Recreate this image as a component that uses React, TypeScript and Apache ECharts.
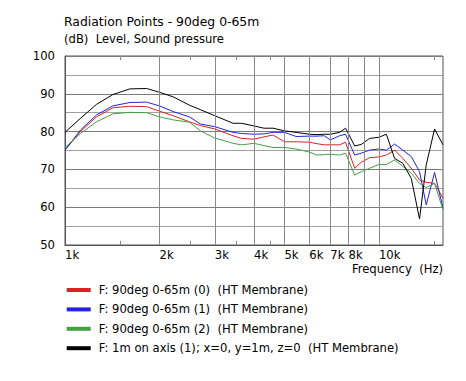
import React, { useEffect, useRef } from "react";
import * as echarts from "echarts";

const freqs = [1000, 1120, 1260, 1420, 1610, 1820, 2000, 2210, 2490, 2700, 3000, 3430, 3650, 4000, 4300, 4600, 5000, 5450, 6000, 6350, 6700, 7000, 7500, 7830, 8370, 8790, 9340, 10000, 10560, 11220, 11920, 12680, 13470, 14150, 15040, 16000];
const redValues = [75.1, 80.0, 83.9, 86.3, 86.7, 86.6, 85.4, 84.2, 82.6, 81.6, 80.7, 78.9, 78.2, 78.0, 78.6, 79.1, 77.3, 77.3, 77.2, 76.8, 76.5, 76.5, 76.5, 77.2, 70.3, 71.9, 73.1, 73.3, 73.8, 75.1, 72.9, 70.3, 67.2, 66.6, 66.3, 62.4];
const blueValues = [75.1, 80.4, 84.4, 86.8, 87.7, 87.8, 86.8, 85.3, 83.9, 82.0, 81.3, 79.8, 79.5, 79.3, 79.4, 79.8, 79.8, 78.7, 78.8, 78.8, 78.9, 77.8, 78.9, 79.3, 73.8, 74.3, 75.1, 75.4, 75.1, 76.7, 75.1, 73.4, 69.4, 60.6, 69.2, 59.7];
const greenValues = [75.8, 79.5, 82.6, 84.7, 85.1, 85.0, 83.9, 83.1, 82.5, 80.2, 78.3, 76.9, 76.5, 76.9, 76.3, 75.8, 75.8, 75.4, 74.6, 73.8, 73.9, 74.0, 73.8, 74.3, 68.5, 69.4, 70.3, 71.3, 71.3, 72.5, 70.8, 69.0, 66.3, 65.2, 66.3, 59.3];
const blackValues = [79.8, 83.5, 87.2, 89.8, 91.3, 91.4, 90.4, 89.2, 87.0, 85.8, 84.2, 82.2, 82.2, 81.5, 80.9, 80.9, 80.2, 79.8, 79.3, 79.2, 79.3, 79.3, 79.8, 80.9, 76.2, 76.6, 78.2, 78.5, 79.3, 72.9, 71.6, 67.6, 56.9, 71.2, 80.7, 76.5];

const seriesNames = [
  "F: 90deg 0-65m (0)  (HT Membrane)",
  "F: 90deg 0-65m (1)  (HT Membrane)",
  "F: 90deg 0-65m (2)  (HT Membrane)",
  "F: 1m on axis (1); x=0, y=1m, z=0  (HT Membrane)",
];
const seriesColors = ["#dd2222", "#2323dd", "#44a244", "#000000"];

const xTickValues = [1000, 2000, 3000, 4000, 5000, 6000, 7000, 8000, 10000];
const xTickLabels = ["1k", "2k", "3k", "4k", "5k", "6k", "7k", "8k", "10k"];
const gridFreqs = [2000, 3000, 4000, 5000, 6000, 7000, 8000, 9000, 10000];
const minorTickFreqs = [1500, 2500, 3500, 4500, 15000];

const titleText = "Radiation Points - 90deg 0-65m";
const subtitleText = "(dB)  Level, Sound pressure";
const xAxisTitle = "Frequency  (Hz)";

const FONT = "'DejaVu Sans', Verdana, sans-serif";
const FS = 11.6;

export default function App() {
  const ref = useRef<HTMLDivElement>(null);
  useEffect(() => {
    const chart = echarts.init(ref.current!, null, { renderer: "svg" });
    const allValues = [redValues, blueValues, greenValues, blackValues];
    const tickSegs: any[] = [];
    minorTickFreqs.forEach((f) => {
      tickSegs.push([{ coord: [f, 50] }, { coord: [f, 51.1] }]);
      tickSegs.push([{ coord: [f, 100] }, { coord: [f, 98.9] }]);
    });
    chart.setOption({
      animation: false,
      grid: {
        left: 65,
        top: 56,
        width: 378,
        height: 189,
        show: true,
        borderColor: "#555",
        borderWidth: 1,
        containLabel: false,
      },
      xAxis: {
        type: "log",
        logBase: 10,
        min: 1000,
        max: 16000,
        axisLine: { show: true, lineStyle: { color: "#555" } },
        axisTick: { show: false },
        axisLabel: { show: false },
        splitLine: { show: false },
        minorTick: { show: false },
      },
      yAxis: {
        type: "value",
        min: 50,
        max: 100,
        interval: 10,
        axisLine: { show: true, lineStyle: { color: "#555" } },
        axisTick: { show: false },
        axisLabel: { fontFamily: FONT, fontSize: FS, color: "#000", margin: 10 },
        splitLine: { show: true, lineStyle: { color: "#7a7a7a", width: 1 } },
        minorTick: { show: false, splitNumber: 2 },
        minorSplitLine: { show: true, lineStyle: { color: "#a0a0a0", width: 1 } },
      },
      legend: {
        orient: "vertical",
        left: 66.7,
        top: 283,
        padding: 0,
        itemWidth: 24,
        itemHeight: 4,
        itemGap: 5.4,
        icon: "rect",
        data: seriesNames,
        selectedMode: false,
        textStyle: { fontFamily: FONT, fontSize: FS, color: "#000", lineHeight: 14, padding: [0, 0, 0, 3] },
      },
      series: [
        {
          name: "grid",
          type: "line",
          data: [],
          silent: true,
          markLine: {
            silent: true,
            symbol: ["none", "none"],
            label: { show: false },
            lineStyle: { color: "#8a8a8a", width: 1, type: "solid" },
            data: [...gridFreqs.map((f) => ({ xAxis: f })), ...tickSegs],
          },
        },
        ...allValues.map((vals, i) => ({
          name: seriesNames[i],
          type: "line",
          data: freqs.map((f, j) => [f, vals[j]]),
          showSymbol: false,
          symbol: "none",
          color: seriesColors[i],
          itemStyle: { color: seriesColors[i] },
          lineStyle: { color: seriesColors[i], width: 1 },
        })),
      ],
    });

    const graphics: any[] = [
      {
        type: "text",
        x: 64,
        y: 21,
        style: { text: titleText, font: `12.4px ${FONT}`, fill: "#000", textAlign: "left", textVerticalAlign: "middle" },
      },
      {
        type: "text",
        x: 64,
        y: 38.5,
        style: { text: subtitleText, font: `${FS}px ${FONT}`, fill: "#000", textAlign: "left", textVerticalAlign: "middle" },
      },
      {
        type: "text",
        x: 443,
        y: 269,
        style: { text: xAxisTitle, font: `${FS}px ${FONT}`, fill: "#000", textAlign: "right", textVerticalAlign: "middle" },
      },
    ];
    xTickValues.forEach((v, i) => {
      const px = chart.convertToPixel({ xAxisIndex: 0 }, v) as number;
      graphics.push({
        type: "text",
        x: px,
        y: 255,
        style: { text: xTickLabels[i], font: `${FS}px ${FONT}`, fill: "#000", textAlign: "left", textVerticalAlign: "middle" },
      });
    });
    chart.setOption({ graphic: graphics });

    return () => chart.dispose();
  }, []);
  return <div ref={ref} style={{ position: "absolute", left: 0, top: 0, width: 466, height: 381 }} />;
}
